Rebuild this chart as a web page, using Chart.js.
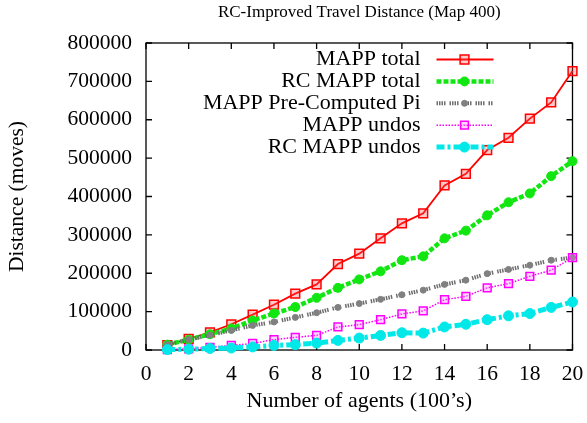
<!DOCTYPE html>
<html>
<head>
<meta charset="utf-8">
<script src="https://cdn.jsdelivr.net/npm/chart.js@4/dist/chart.umd.min.js"></script>
<style>
html, body { margin: 0; padding: 0; background: #fff; }
</style>
</head>
<body>
<canvas id="chart" width="587" height="423"></canvas>
<script>
// number of agents (100's)
let agents = [1, 2, 3, 4, 5, 6, 7, 8, 9, 10, 11, 12, 13, 14, 15, 16, 17, 18, 19, 20]

let mappTotal = [13000, 29000, 46000, 67000, 92000, 118000, 147000, 171000, 224000, 251000, 291000, 330000, 356000, 429000, 459000, 521000, 553000, 603000, 645000, 727000]
let rcMappTotal = [14000, 27000, 41000, 56000, 77000, 95000, 112000, 136000, 162000, 184000, 205000, 234000, 244000, 291000, 311000, 351000, 385000, 408000, 453000, 492000]
let preComputed = [14000, 27000, 39000, 51000, 64000, 73000, 85000, 97000, 111000, 121000, 132000, 144000, 156000, 171000, 182000, 199000, 210000, 221000, 234000, 241000]
let mappUndos = [1000, 3000, 7000, 12000, 17000, 27000, 33000, 38000, 60000, 66000, 79000, 94000, 102000, 131000, 140000, 162000, 173000, 192000, 208000, 241000]
let rcUndos = [1000, 2000, 4000, 5000, 8000, 12000, 14000, 18000, 25000, 31000, 38000, 45000, 44000, 60000, 67000, 79000, 89000, 95000, 111000, 125000]

let seriesNames = ['MAPP total', 'RC MAPP total', 'MAPP Pre-Computed Pi', 'MAPP undos', 'RC MAPP undos']

Chart.defaults.font.family = 'Liberation Serif'
Chart.defaults.color = '#000'

function toPoints(values) {
    return values.map((v, i) => ({ x: agents[i], y: v }))
}

function drawMarker(ctx, ds, x, y) {
    let r = ds.pointRadius
    ctx.save()
    ctx.setLineDash([])
    ctx.lineWidth = ds.pointBorderWidth
    ctx.strokeStyle = ds.pointBorderColor
    ctx.fillStyle = ds.pointBackgroundColor
    ctx.beginPath()
    if (ds.pointStyle === 'rect') {
        let s = Math.SQRT1_2 * r
        ctx.rect(x - s, y - s, 2 * s, 2 * s)
    } else {
        ctx.arc(x, y, r, 0, Math.PI * 2)
    }
    ctx.fill()
    ctx.stroke()
    ctx.restore()
}

// gnuplot style frame with inward ticks + key in the top right corner
const framePlugin = {
    id: 'frame',
    beforeDatasetsDraw(chart) {
        const { ctx, chartArea: a, scales: { x, y } } = chart
        ctx.save()
        ctx.strokeStyle = '#000'
        ctx.lineWidth = 1.3
        ctx.strokeRect(a.left, a.top, a.right - a.left, a.bottom - a.top)
        ctx.beginPath()
        x.ticks.forEach(t => {
            let px = x.getPixelForValue(t.value)
            ctx.moveTo(px, a.bottom); ctx.lineTo(px, a.bottom - 6)
            ctx.moveTo(px, a.top); ctx.lineTo(px, a.top + 6)
        })
        y.ticks.forEach(t => {
            let py = y.getPixelForValue(t.value)
            ctx.moveTo(a.left, py); ctx.lineTo(a.left + 6, py)
            ctx.moveTo(a.right, py); ctx.lineTo(a.right - 6, py)
        })
        ctx.stroke()
        ctx.restore()
    },
    afterDatasetsDraw(chart) {
        const { ctx, chartArea: a } = chart
        chart.data.datasets.forEach((ds, i) => {
            let yy = a.top + 16.5 + 21.9 * i
            ctx.save()
            ctx.font = '22px "Liberation Serif"'
            ctx.fillStyle = '#000'
            ctx.textAlign = 'right'
            ctx.textBaseline = 'middle'
            ctx.fillText(ds.label, a.right - 152, yy)
            ctx.strokeStyle = ds.borderColor
            ctx.lineWidth = ds.borderWidth
            ctx.setLineDash(ds.borderDash || [])
            ctx.beginPath()
            ctx.moveTo(a.right - 136, yy)
            ctx.lineTo(a.right - 79, yy)
            ctx.stroke()
            ctx.restore()
            drawMarker(ctx, ds, a.right - 108, yy)
        })
    }
}

new Chart(document.getElementById('chart'), {
    type: 'line',
    data: {
        datasets: [
            {
                label: seriesNames[0], data: toPoints(mappTotal), order: 5,
                borderColor: '#ff0000', borderWidth: 1.8,
                pointStyle: 'rect', pointRadius: 6.2, pointBorderWidth: 1.5,
                pointBorderColor: '#ff0000', pointBackgroundColor: 'rgba(255,80,80,0.3)'
            },
            {
                label: seriesNames[1], data: toPoints(rcMappTotal), order: 4,
                borderColor: '#11e611', borderWidth: 4.5, borderDash: [5, 2],
                pointStyle: 'circle', pointRadius: 4.5, pointBorderWidth: 1,
                pointBorderColor: '#11e611', pointBackgroundColor: '#11e611'
            },
            {
                label: seriesNames[2], data: toPoints(preComputed), order: 3,
                borderColor: '#6e6e6e', borderWidth: 4, borderDash: [1.5, 1, 1.5, 1, 1.5, 1, 1.5, 4],
                pointStyle: 'circle', pointRadius: 3, pointBorderWidth: 1,
                pointBorderColor: '#808080', pointBackgroundColor: '#808080'
            },
            {
                label: seriesNames[3], data: toPoints(mappUndos), order: 2,
                borderColor: '#ff00ff', borderWidth: 1.5, borderDash: [1.5, 1.5],
                pointStyle: 'rect', pointRadius: 5.5, pointBorderWidth: 1.5,
                pointBorderColor: '#ff00ff', pointBackgroundColor: 'rgba(255,120,255,0.3)'
            },
            {
                label: seriesNames[4], data: toPoints(rcUndos), order: 1,
                borderColor: '#00e8e8', borderWidth: 5, borderDash: [8, 3, 3, 3],
                pointStyle: 'circle', pointRadius: 5, pointBorderWidth: 1,
                pointBorderColor: '#00e8e8', pointBackgroundColor: '#00e8e8'
            }
        ]
    },
    options: {
        responsive: false,
        animation: false,
        layout: { padding: { left: 0, right: 14.5, top: 0, bottom: 0 } },
        elements: { line: { tension: 0, borderCapStyle: 'butt' } },
        datasets: { line: { clip: false } },
        plugins: {
            legend: { display: false },
            tooltip: { enabled: false },
            title: {
                display: true,
                fullSize: false,
                text: 'RC-Improved Travel Distance (Map 400)',
                font: { size: 17, weight: 'normal' },
                padding: { top: 2, bottom: 20.6 }
            }
        },
        scales: {
            x: {
                type: 'linear', min: 0, max: 20,
                grid: { display: false, drawTicks: false },
                border: { display: false },
                ticks: { stepSize: 2, padding: 11, font: { size: 21.5 } },
                title: { display: true, text: 'Number of agents (100\u2019s)', font: { size: 22 }, padding: { top: 4, bottom: 9 } },
                afterFit(s) { s.height = 73; s.paddingRight = 0; s.paddingLeft = 0 }
            },
            y: {
                min: 0, max: 800000,
                grid: { display: false, drawTicks: false },
                border: { display: false },
                ticks: { stepSize: 100000, padding: 14, font: { size: 21.5 }, callback: v => String(v) },
                title: { display: true, text: 'Distance (moves)', font: { size: 21.5 }, padding: { top: 4, bottom: 0 } },
                afterFit(s) { s.width = 146 }
            }
        }
    },
    plugins: [framePlugin]
})
</script>
</body>
</html>
